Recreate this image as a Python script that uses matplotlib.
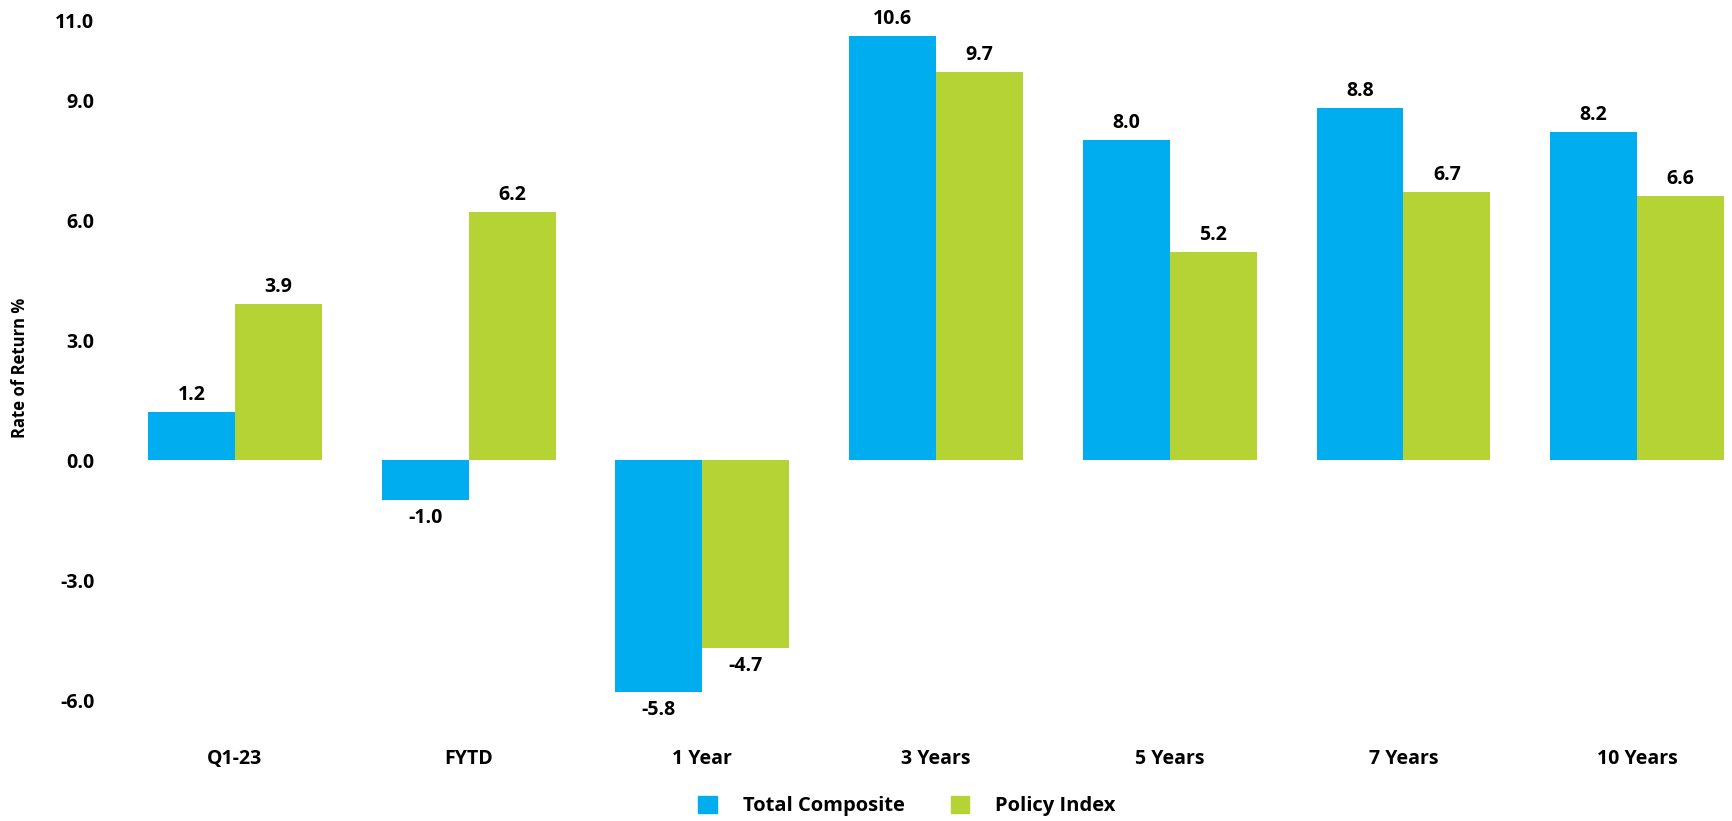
import numpy as np
import matplotlib.pyplot as plt
from matplotlib.patches import Patch

categories = ['Q1-23', 'FYTD', '1 Year', '3 Years', '5 Years', '7 Years', '10 Years']
total_composite = [1.2, -1.0, -5.8, 10.6, 8.0, 8.8, 8.2]
policy_index = [3.9, 6.2, -4.7, 9.7, 5.2, 6.7, 6.6]
y_ticks = [-6.0, -3.0, 0.0, 3.0, 6.0, 9.0, 11.0]

BLUE = '#00AEEF'
GREEN = '#B5D334'
FONT = 'Open Sans'

W, H = 1733, 821
fig = plt.figure(figsize=(W / 100, H / 100), dpi=100)
ax = fig.add_axes([118 / W, 1 - 700 / H, (W - 118) / W, 680 / H])

x = np.arange(len(categories))
bw = 0.372
b1 = ax.bar(x - bw / 2, total_composite, bw, color=BLUE)
b2 = ax.bar(x + bw / 2, policy_index, bw, color=GREEN)

# value labels above / below each bar
for bars, vals in ((b1, total_composite), (b2, policy_index)):
    for rect, v in zip(bars, vals):
        cx = rect.get_x() + rect.get_width() / 2
        if v >= 0:
            ax.annotate(f'{v:.1f}', (cx, v), xytext=(0, 5), textcoords='offset points',
                        ha='center', va='bottom', fontsize=14, fontweight='bold', family=FONT)
        else:
            ax.annotate(f'{v:.1f}', (cx, v), xytext=(0, -6), textcoords='offset points',
                        ha='center', va='top', fontsize=14, fontweight='bold', family=FONT)

ax.set_xlim(-0.5, 6.41)
ax.set_ylim(-6, 11)
ax.set_yticks(y_ticks, [f'{t:.1f}' for t in y_ticks])
ax.set_xticks(x, categories)
for lab in ax.get_xticklabels() + ax.get_yticklabels():
    lab.set_fontsize(14)
    lab.set_fontweight('bold')
    lab.set_family(FONT)
ax.tick_params(length=0)
ax.tick_params(axis='y', pad=17)
ax.tick_params(axis='x', pad=35)
for s in ax.spines.values():
    s.set_visible(False)

fig.text(20 / W, 1 - 368 / H, 'Rate of Return %', rotation=90, ha='center', va='center',
         fontsize=12, fontweight='bold', family=FONT)

handles = [Patch(color=BLUE, label='Total Composite'), Patch(color=GREEN, label='Policy Index')]
fig.legend(handles=handles, loc='center', bbox_to_anchor=(907 / W, 1 - 806 / H), ncol=2,
           frameon=False, handlelength=0.9, handleheight=0.9, handletextpad=1.3,
           columnspacing=2.3, prop={'family': FONT, 'weight': 'bold', 'size': 14.5})

fig.savefig('out.png', dpi=100)
